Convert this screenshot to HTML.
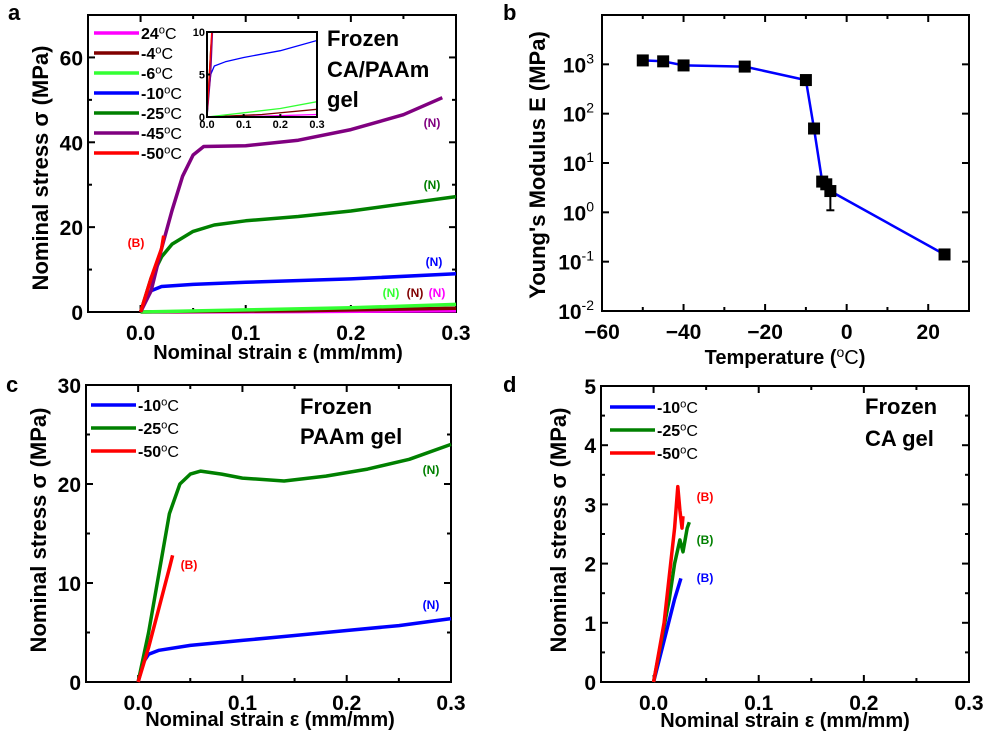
<!DOCTYPE html>
<html><head><meta charset="utf-8"><style>
body{margin:0;background:#fff}
svg{display:block;font-family:"Liberation Sans",Arial,sans-serif;font-weight:bold}
</style></head><body>
<svg id="fig" width="1000" height="748" viewBox="0 0 1000 748"></svg>
<script>
// ---- data ----
const aT = ["24","-4","-6","-10","-25","-45","-50"];
const aColors = ["#ff00ff","#800000","#33ff33","#0000ff","#008000","#800080","#ff0000"];
const a24 = [[0,0],[0.15,0.1],[0.3,0.3]];
const aM4 = [[0,0],[0.15,0.3],[0.3,0.9]];
const aM6 = [[0,0],[0.1,0.5],[0.2,1.0],[0.3,1.8]];
const aM10 = [[0,0],[0.005,3],[0.01,5],[0.02,6],[0.05,6.5],[0.1,7],[0.2,7.8],[0.3,9]];
const aM25 = [[0,0],[0.01,8],[0.02,13],[0.03,16],[0.05,19],[0.07,20.5],[0.1,21.5],[0.15,22.5],[0.2,23.8],[0.25,25.5],[0.3,27.2]];
const aM45 = [[0,0],[0.01,5],[0.02,15],[0.03,24],[0.04,32],[0.05,37],[0.06,39],[0.1,39.2],[0.15,40.5],[0.2,43],[0.25,46.5],[0.287,50.5]];
const aM50 = [[0,0],[0.01,8],[0.02,15],[0.022,18]];
const bTemp = [-50,-45,-40,-25,-10,-8,-6,-5,-4,24];
const bMod = [1200,1150,950,900,480,50,4.2,3.7,2.7,0.14];
const bErrLo = [1000,1000,900,750,380,45,3.5,3.2,1.1,0.12];
const cM10 = [[0,0],[0.005,2],[0.01,2.8],[0.02,3.2],[0.05,3.7],[0.1,4.2],[0.15,4.7],[0.2,5.2],[0.25,5.7],[0.3,6.4]];
const cM25 = [[0,0],[0.01,5],[0.02,11],[0.03,17],[0.04,20],[0.05,21],[0.06,21.3],[0.08,21],[0.1,20.6],[0.14,20.3],[0.18,20.8],[0.22,21.5],[0.26,22.5],[0.3,24]];
const cM50 = [[0,0],[0.01,3.5],[0.02,7.5],[0.03,11.5],[0.033,12.8]];
const dM10 = [[0,0],[0.01,0.7],[0.02,1.4],[0.026,1.75]];
const dM25 = [[0,0],[0.015,1.4],[0.02,2],[0.025,2.4],[0.028,2.2],[0.032,2.6],[0.034,2.7]];
const dM50 = [[0,0],[0.01,1],[0.02,2.6],[0.023,3.3],[0.025,2.9],[0.027,2.6],[0.028,2.8]];
const strainTicks = ["0.0","0.1","0.2","0.3"];

const S = document.getElementById('fig');
const NS = "http://www.w3.org/2000/svg";
function el(tag, at, parent){const e=document.createElementNS(NS,tag);for(const k in at)e.setAttribute(k,at[k]);(parent||S).appendChild(e);return e;}
function txt(x,y,s,size,fill,anchor,name,parent){const t=el('text',{x:x,y:y,'font-size':size,fill:fill||'#000','text-anchor':anchor||'start'},parent);t.textContent=s;return t;}
function degText(x,y,num,size,anchor,name){const t=el('text',{x:x,y:y,'font-size':size,'text-anchor':anchor||'start'});
 
 const a=el('tspan',{},t);a.textContent=num;const b=el('tspan',{dy:-size*0.35,'font-size':size*0.7,'font-weight':'normal'},t);b.textContent='o';const c=el('tspan',{dy:size*0.35,'font-weight':'normal'},t);c.textContent='C';return t;}

function makeAxes(L,R,T,B,x0,x1,y0,y1,log){
 const sx=v=>L+(v-x0)/(x1-x0)*(R-L);
 const sy=log? v=>B-(Math.log10(v)-y0)/(y1-y0)*(B-T) : v=>B-(v-y0)/(y1-y0)*(B-T);
 return {sx,sy};
}
function frame(L,R,T,B,name){const r=el('rect',{x:L,y:T,width:R-L,height:B-T,fill:'none',stroke:'#000','stroke-width':2});}
function tick(x1,y1,x2,y2){const l=el('line',{x1,y1,x2,y2,stroke:'#000','stroke-width':2});}
function curve(pts,ax,color,name,w){const d=pts.map((p,i)=>(i?'L':'M')+ax.sx(p[0]).toFixed(1)+' '+ax.sy(p[1]).toFixed(1)).join(' ');
 const p=el('path',{d:d,fill:'none',stroke:color,'stroke-width':w||3.5,'stroke-linejoin':'round'});return p;}
function ylabel(x,y,s,name){const t=el('text',{x:0,y:0,'font-size':22,'text-anchor':'middle',transform:`translate(${x},${y}) rotate(-90)`});t.textContent=s;}

function strainPanel(L,R,T,B,ymax,ystep,minor){
 const ax=makeAxes(L,R,T,B,-0.05,0.3,0,ymax,false);
 frame(L,R,T,B,'plot-frame');
 for(let i=0;i<strainTicks.length;i++){const v=parseFloat(strainTicks[i]);const x=ax.sx(v);
  tick(x,B,x,B-7);tick(x,T,x,T+7);txt(x,B+28,strainTicks[i],21,'#000','middle','x-tick-label');
  const xm=ax.sx(v-0.05);tick(xm,B,xm,B-4);tick(xm,T,xm,T+4);}
 for(let v=0;v<=ymax+1e-9;v+=ystep){const y=ax.sy(v);tick(L,y,L+7,y);tick(R,y,R-7,y);txt(L-5,y+8,String(v),21,'#000','end','y-tick-label');
  if(v+ystep/2<=ymax){const ym=ax.sy(v+ystep/2);tick(L,ym,L+4,ym);tick(R,ym,R-4,ym);}}
 return ax;
}
function legend(x,y,dy,temps,colors){for(let i=0;i<temps.length;i++){const yy=y+i*dy;
 const l=el('line',{x1:x,y1:yy,x2:x+45,y2:yy,stroke:colors[i],'stroke-width':3.5});
 degText(x+47,yy+6,temps[i],16,'start','legend-label');}}

// ---- panel a ----
txt(8,20,'a',22,'#000','start','panel-label-a');
const A=strainPanel(88,456,15,312,70,20);
const aData=[a24,aM4,aM6,aM10,aM25,aM45,aM50];
for(let i=0;i<aData.length;i++) curve(aData[i],A,aColors[i],'curve-a-'+aT[i]);
legend(94,33,20,aT,aColors);
// inset
const IL=207,IR=317,IT=32,IB=117;
el('rect',{x:IL,y:IT,width:IR-IL,height:IB-IT,fill:'#fff',stroke:'none'});
const In=makeAxes(IL,IR,IT,IB,0,0.3,0,10,false);
const cp=el('clipPath',{id:'inclip'});el('rect',{x:IL,y:IT,width:IR-IL,height:IB-IT},cp);
const ig=el('g',{'clip-path':'url(#inclip)'});
for(let i=0;i<aData.length;i++){const p=curve(aData[i],In,aColors[i],'inset-curve',1.3);ig.appendChild(p);}
frame(IL,IR,IT,IB,'inset-frame');
["0.0","0.1","0.2","0.3"].forEach(s=>{const x=In.sx(parseFloat(s));txt(x,IB+11,s,11,'#000','middle','inset-x-tick');tick(x,IB,x,IB-3);});
[0,5,10].forEach(v=>{const y=In.sy(v);txt(IL-2,y+4,String(v),11,'#000','end','inset-y-tick');tick(IL,y,IL+3,y);});
txt(327,46,'Frozen',22,'#000','start','annotation-a');txt(327,77,'CA/PAAm',22,'#000','start','annotation-a');txt(327,107,'gel',22,'#000','start','annotation-a');
txt(432,127,'(N)',12,'#800080','middle','break-label');txt(432,189,'(N)',12,'#008000','middle','break-label');
txt(434,266,'(N)',12,'#0000ff','middle','break-label');txt(391,297,'(N)',12,'#33ff33','middle','break-label');
txt(415,297,'(N)',12,'#800000','middle','break-label');txt(437,297,'(N)',12,'#ff00ff','middle','break-label');
txt(136,247,'(B)',12,'#ff0000','middle','break-label');
ylabel(48,168,'Nominal stress σ (MPa)','y-axis-title-a');
txt(278,359,'Nominal strain ε (mm/mm)',20,'#000','middle','x-axis-title-a');

// ---- panel b ----
txt(503,20,'b',22,'#000','start','panel-label-b');
const BL=602,BR=969,BT=15,BB=311;
const Bx=makeAxes(BL,BR,BT,BB,-60,30,-2,4,true);
frame(BL,BR,BT,BB,'plot-frame-b');
[-60,-40,-20,0,20].forEach(v=>{const x=Bx.sx(v);tick(x,BB,x,BB-7);tick(x,BT,x,BT+7);txt(x,BB+28,v<0?'−'+(-v):String(v),21,'#000','middle','x-tick-label');});
[-50,-30,-10,10,30].forEach(v=>{const x=Bx.sx(v);tick(x,BB,x,BB-4);tick(x,BT,x,BT+4);});
[-2,-1,0,1,2,3].forEach(e=>{const y=Bx.sy(Math.pow(10,e));tick(BL,y,BL+7,y);tick(BR,y,BR-7,y);
 const t=el('text',{x:BL-8,y:y+8,'font-size':21,'text-anchor':'end'});
 const a=el('tspan',{},t);a.textContent='10';const b=el('tspan',{dy:-9,'font-size':14,'font-weight':'normal'},t);b.textContent=String(e);});
const bpts=bTemp.map((t,i)=>[t,bMod[i]]);
curve(bpts,Bx,'#0000ff','modulus-line',2.5);
for(let i=0;i<bTemp.length;i++){const x=Bx.sx(bTemp[i]),y=Bx.sy(bMod[i]),ylo=Bx.sy(bErrLo[i]);
 const e=el('line',{x1:x,y1:y,x2:x,y2:ylo,stroke:'#000','stroke-width':2});
 const c=el('line',{x1:x-4,y1:ylo,x2:x+4,y2:ylo,stroke:'#000','stroke-width':2});
 const r=el('rect',{x:x-6,y:y-6,width:12,height:12,fill:'#000'});}
ylabel(545,165,"Young's Modulus E (MPa)",'y-axis-title-b');
const bt=degText(785,364,'Temperature (',20,'middle','x-axis-title-b');const bt2=el('tspan',{},bt);bt2.textContent=')';

// ---- panel c ----
txt(6,392,'c',22,'#000','start','panel-label-c');
const C=strainPanel(86,451,385,682,30,10);
curve(cM10,C,'#0000ff','curve-c-10');curve(cM25,C,'#008000','curve-c-25');curve(cM50,C,'#ff0000','curve-c-50');
legend(91,405,23,['-10','-25','-50'],['#0000ff','#008000','#ff0000']);
txt(300,414,'Frozen',22,'#000','start','annotation-c');txt(300,444,'PAAm gel',22,'#000','start','annotation-c');
txt(431,474,'(N)',12,'#008000','middle','break-label');txt(431,609,'(N)',12,'#0000ff','middle','break-label');txt(189,569,'(B)',12,'#ff0000','middle','break-label');
ylabel(46,530,'Nominal stress σ (MPa)','y-axis-title-c');
txt(270,726,'Nominal strain ε (mm/mm)',20,'#000','middle','x-axis-title-c');

// ---- panel d ----
txt(503,392,'d',22,'#000','start','panel-label-d');
const D=strainPanel(601,969,386,682,5,1);
curve(dM10,D,'#0000ff','curve-d-10');curve(dM25,D,'#008000','curve-d-25');curve(dM50,D,'#ff0000','curve-d-50');
legend(610,407,23,['-10','-25','-50'],['#0000ff','#008000','#ff0000']);
txt(865,414,'Frozen',22,'#000','start','annotation-d');txt(865,446,'CA gel',22,'#000','start','annotation-d');
txt(705,501,'(B)',12,'#ff0000','middle','break-label');txt(705,544,'(B)',12,'#008000','middle','break-label');txt(705,582,'(B)',12,'#0000ff','middle','break-label');
ylabel(566,530,'Nominal stress σ (MPa)','y-axis-title-d');
txt(785,727,'Nominal strain ε (mm/mm)',20,'#000','middle','x-axis-title-d');
</script>
</body></html>
